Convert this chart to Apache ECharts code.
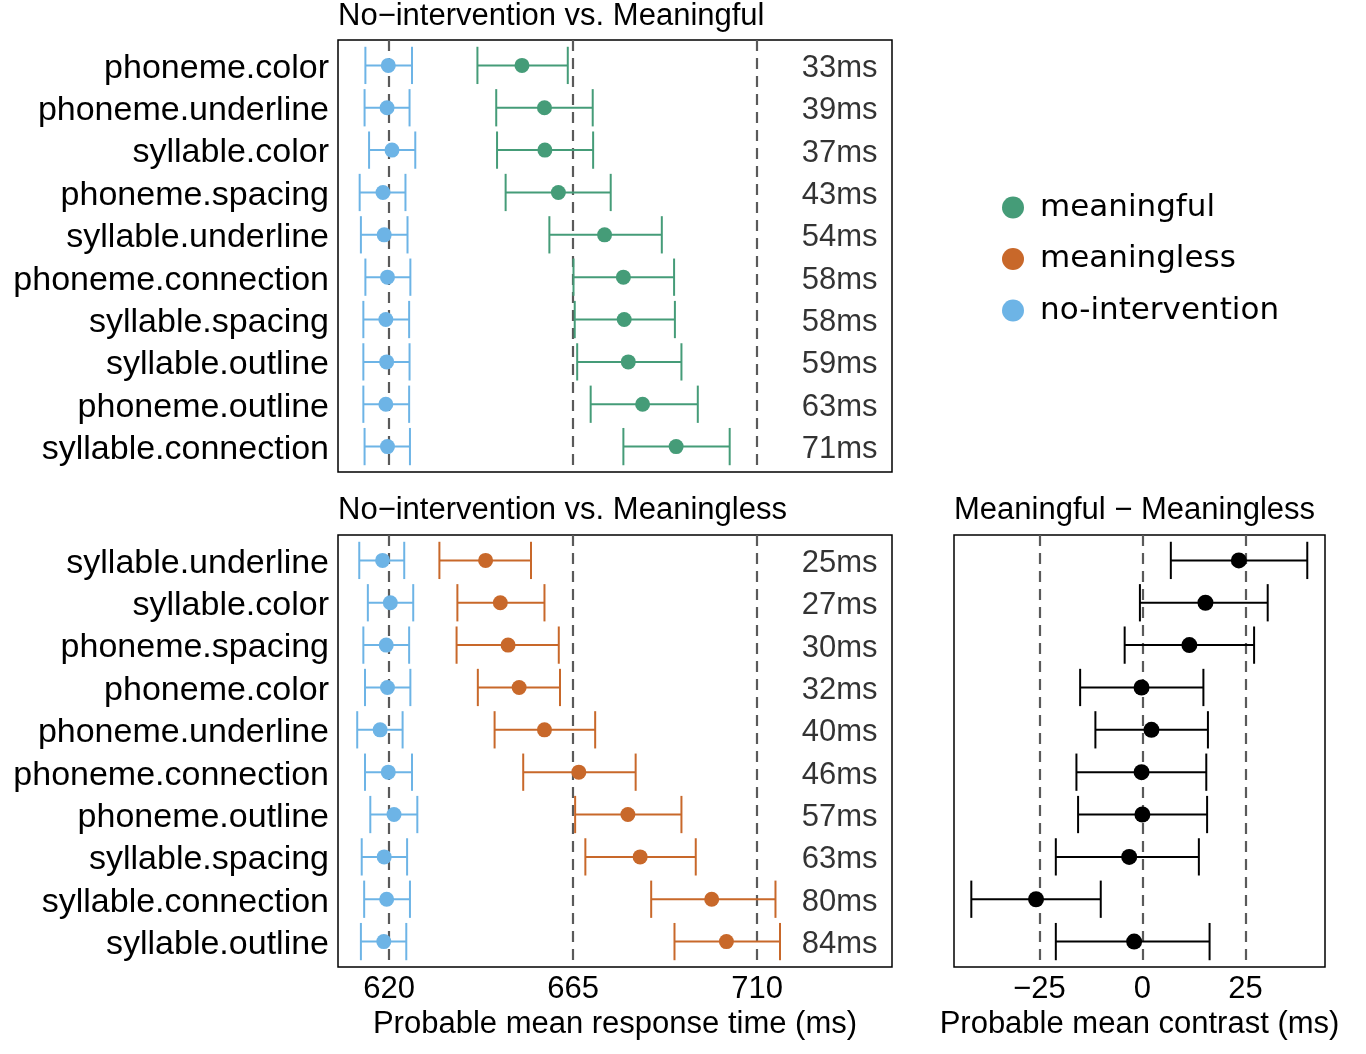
<!DOCTYPE html>
<html>
<head>
<meta charset="utf-8">
<script src="https://cdn.jsdelivr.net/npm/echarts@6.0.0/dist/echarts.min.js"></script>
<style>
  html, body { margin: 0; padding: 0; background: #fff; }
  #chart { width: 1366px; height: 1054px; }
</style>
</head>
<body>
<div id="chart"></div>
<script>
// panel 1: no-intervention vs meaningful (top to bottom)
var topLabels = ['phoneme.color', 'phoneme.underline', 'syllable.color', 'phoneme.spacing', 'syllable.underline',
  'phoneme.connection', 'syllable.spacing', 'syllable.outline', 'phoneme.outline', 'syllable.connection'];
var topMeaningful = [652.5, 658.0, 658.1, 661.4, 672.7, 677.3, 677.5, 678.5, 682.0, 690.2];
var topMeaningfulLo = [641.6, 646.2, 646.4, 648.5, 659.2, 665.1, 665.4, 666.0, 669.3, 677.3];
var topMeaningfulHi = [663.7, 669.8, 669.9, 674.2, 686.7, 689.7, 689.9, 691.5, 695.5, 703.3];
var topNone = [619.8, 619.5, 620.7, 618.5, 618.8, 619.6, 619.2, 619.4, 619.2, 619.6];
var topNoneLo = [614.2, 614.0, 615.1, 612.8, 613.1, 614.2, 613.7, 613.7, 613.7, 614.0];
var topNoneHi = [625.6, 625.0, 626.4, 624.0, 624.5, 625.2, 624.9, 625.0, 624.9, 625.1];
var topDiff = [33, 39, 37, 43, 54, 58, 58, 59, 63, 71];

// panel 2: no-intervention vs meaningless
var botLabels = ['syllable.underline', 'syllable.color', 'phoneme.spacing', 'phoneme.color', 'phoneme.underline',
  'phoneme.connection', 'phoneme.outline', 'syllable.spacing', 'syllable.connection', 'syllable.outline'];
var botMeaningless = [643.6, 647.2, 649.1, 651.8, 658.0, 666.4, 678.4, 681.4, 698.9, 702.5];
var botMeaninglessLo = [632.3, 636.7, 636.5, 641.7, 645.8, 652.8, 665.5, 668.0, 684.1, 689.8];
var botMeaninglessHi = [654.7, 658.0, 661.5, 661.8, 670.4, 680.3, 691.5, 695.0, 714.5, 715.6];
var botNone = [618.4, 620.3, 619.3, 619.6, 617.8, 619.8, 621.2, 618.8, 619.4, 618.7];
var botNoneLo = [612.7, 614.8, 613.7, 614.1, 612.2, 614.1, 615.4, 613.3, 613.9, 613.1];
var botNoneHi = [623.7, 625.9, 624.9, 625.2, 623.3, 625.6, 626.9, 624.4, 625.1, 624.2];
var botDiff = [25, 27, 30, 32, 40, 46, 57, 63, 80, 84];

// panel 3: meaningful - meaningless contrast (same rows as panel 2)
var contrast = [23.4, 15.3, 11.4, -0.2, 2.2, -0.2, 0.0, -3.2, -25.8, -2.0];
var contrastLo = [6.9, -0.6, -4.3, -15.1, -11.4, -16.0, -15.6, -21.0, -41.5, -21.0];
var contrastHi = [40.0, 30.4, 27.1, 14.8, 15.9, 15.5, 15.7, 13.7, -10.1, 16.3];

var rtTicks = [620, 665, 710];
var contrastTicks = [-25, 0, 25];

var FONT = 'Liberation Sans';
var GREEN = '#459c78', ORANGE = '#c8682a', BLUE = '#6db4e6';
var rows = [0, 1, 2, 3, 4, 5, 6, 7, 8, 9];

function errorBars(lo, hi, color, idx, lw) {
  return {
    type: 'custom',
    xAxisIndex: idx,
    yAxisIndex: idx,
    silent: true,
    z: 2,
    data: lo.map(function (v, i) { return [v, hi[i], i]; }),
    encode: { x: [0, 1], y: 2 },
    renderItem: function (params, api) {
      var a = api.coord([api.value(0), api.value(2)]);
      var b = api.coord([api.value(1), api.value(2)]);
      var h = Math.abs(api.size([0, 0.44])[1]);
      var st = { stroke: color, lineWidth: lw };
      return {
        type: 'group',
        children: [
          { type: 'line', shape: { x1: a[0], y1: a[1], x2: b[0], y2: b[1] }, style: st },
          { type: 'line', shape: { x1: a[0], y1: a[1] - h, x2: a[0], y2: a[1] + h }, style: st },
          { type: 'line', shape: { x1: b[0], y1: b[1] - h, x2: b[0], y2: b[1] + h }, style: st }
        ]
      };
    }
  };
}

function dots(name, vals, color, idx, size) {
  return {
    type: 'scatter',
    name: name,
    xAxisIndex: idx,
    yAxisIndex: idx,
    silent: true,
    z: 3,
    symbolSize: size,
    itemStyle: { color: color, opacity: 1 },
    data: vals.map(function (v, i) { return [v, i]; })
  };
}

function refLines(vals, idx) {
  return {
    type: 'scatter',
    xAxisIndex: idx,
    yAxisIndex: idx,
    silent: true,
    data: [],
    markLine: {
      silent: true,
      z: 1,
      symbol: ['none', 'none'],
      label: { show: false },
      lineStyle: { color: '#5a5a5a', width: 2.2, type: [11, 7] },
      data: vals.map(function (v) { return { xAxis: v }; })
    }
  };
}

function diffText(vals, idx) {
  return {
    type: 'scatter',
    xAxisIndex: idx,
    yAxisIndex: idx,
    silent: true,
    symbolSize: 1,
    itemStyle: { color: 'transparent' },
    data: vals.map(function (v, i) { return [720.8, i, v + 'ms']; }),
    label: {
      show: true, position: 'right', distance: 0, offset: [0, 3],
      formatter: function (p) { return p.value[2]; },
      fontFamily: FONT, fontSize: 31, color: '#000'
    }
  };
}

function yAxis(idx, labels) {
  return {
    gridIndex: idx, type: 'value', min: -0.6, max: 9.6, inverse: true,
    axisLine: { show: false }, axisTick: { show: false }, splitLine: { show: false },
    axisLabel: labels ? {
      customValues: rows, margin: 9,
      formatter: function (v) { return '{a|' + labels[v] + '}'; },
      rich: { a: { fontFamily: FONT, fontSize: 34, color: '#000', padding: [6, 0, 0, 0] } }
    } : { show: false }
  };
}

function xAxis(idx, min, max, ticks, name) {
  var ax = {
    gridIndex: idx, type: 'value', min: min, max: max,
    axisLine: { show: false }, axisTick: { show: false }, splitLine: { show: false },
    axisLabel: { show: false }
  };
  if (ticks) {
    ax.axisLabel = {
      customValues: ticks, margin: 7,
      formatter: function (v) { return v < 0 ? '\u2212' + Math.abs(v) : String(v); },
      fontFamily: FONT, fontSize: 31, color: '#000'
    };
    ax.name = name;
    ax.nameLocation = 'middle';
    ax.nameGap = 42;
    ax.nameTextStyle = { fontFamily: FONT, fontSize: 31, color: '#000' };
  }
  return ax;
}

var titleStyle = { fontFamily: FONT, fontSize: 31, fontWeight: 'normal', color: '#000' };
var box = { show: true, borderColor: '#000', borderWidth: 1.5, backgroundColor: 'transparent' };

var chart = echarts.init(document.getElementById('chart'), null, { renderer: 'canvas' });
chart.setOption({
  animation: false,
  backgroundColor: '#fff',
  title: [
    { text: 'No\u2212intervention vs. Meaningful', left: 338, top: 1, padding: 0, textStyle: titleStyle },
    { text: 'No\u2212intervention vs. Meaningless', left: 338, top: 495, padding: 0, textStyle: titleStyle },
    { text: 'Meaningful \u2212 Meaningless', left: 954, top: 495, padding: 0, textStyle: titleStyle }
  ],
  legend: {
    data: ['meaningful', 'meaningless', 'no-intervention'],
    orient: 'vertical', left: 1002, top: 192, padding: 0,
    icon: 'circle', itemWidth: 44, itemHeight: 22, itemGap: 20.5,
    selectedMode: false,
    textStyle: { fontFamily: 'DejaVu Sans', fontSize: 31, color: '#000', lineHeight: 30 }
  },
  grid: [
    Object.assign({ left: 338, top: 40, width: 554, height: 432 }, box),
    Object.assign({ left: 338, top: 535, width: 554, height: 432 }, box),
    Object.assign({ left: 954, top: 535, width: 371, height: 432 }, box)
  ],
  xAxis: [
    xAxis(0, 607.5, 743, null),
    xAxis(1, 607.5, 743, rtTicks, 'Probable mean response time (ms)'),
    xAxis(2, -45.7, 44.3, contrastTicks, 'Probable mean contrast (ms)')
  ],
  yAxis: [yAxis(0, topLabels), yAxis(1, botLabels), yAxis(2, null)],
  series: [
    refLines(rtTicks, 0),
    errorBars(topNoneLo, topNoneHi, BLUE, 0, 2),
    errorBars(topMeaningfulLo, topMeaningfulHi, GREEN, 0, 2),
    dots('no-intervention', topNone, BLUE, 0, 15),
    dots('meaningful', topMeaningful, GREEN, 0, 15),
    diffText(topDiff, 0),

    refLines(rtTicks, 1),
    errorBars(botNoneLo, botNoneHi, BLUE, 1, 2),
    errorBars(botMeaninglessLo, botMeaninglessHi, ORANGE, 1, 2),
    dots('no-intervention', botNone, BLUE, 1, 15),
    dots('meaningless', botMeaningless, ORANGE, 1, 15),
    diffText(botDiff, 1),

    refLines(contrastTicks, 2),
    errorBars(contrastLo, contrastHi, '#000', 2, 2),
    dots('contrast', contrast, '#000', 2, 16)
  ]
});
</script>
</body>
</html>
